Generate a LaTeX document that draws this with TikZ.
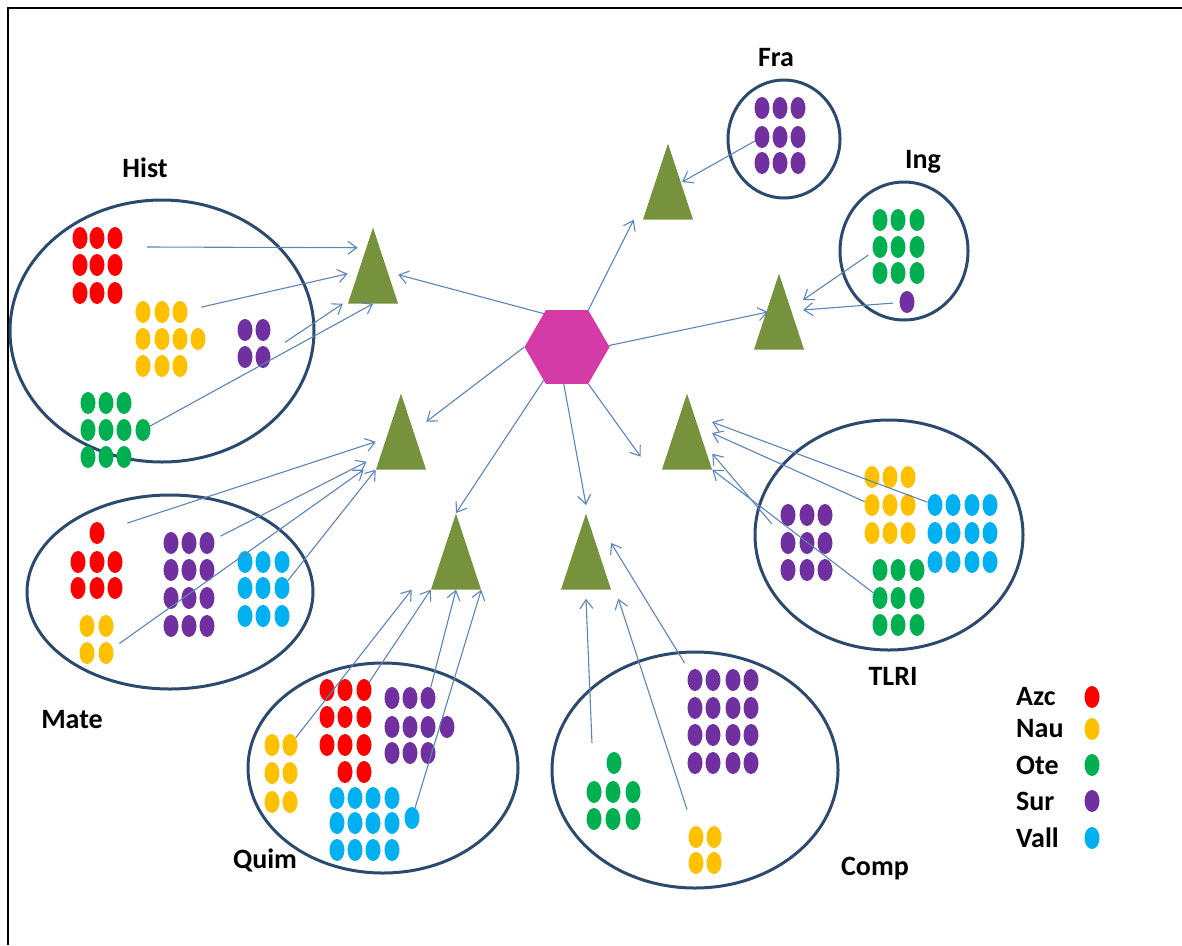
\documentclass[tikz,border=0pt]{standalone}
\usepackage{fontspec}
\setmainfont{Carlito}
\usetikzlibrary{shapes.geometric,arrows.meta}
\definecolor{azc}{HTML}{FF0000}
\definecolor{nau}{HTML}{FFC000}
\definecolor{ote}{HTML}{00B050}
\definecolor{sur}{HTML}{7030A0}
\definecolor{vall}{HTML}{00B0F0}
\definecolor{ringblue}{HTML}{2C4A6E}
\definecolor{linkblue}{HTML}{5B84B8}
\definecolor{treegreen}{HTML}{76923C}
\definecolor{hubpink}{HTML}{D43BA6}

\begin{document}
\begin{tikzpicture}[x=1pt, y=-1pt,
    dot/.style={ellipse, inner sep=0, minimum width=15pt, minimum height=22pt, fill=#1},
    ring/.style={ellipse, draw=ringblue, line width=3pt, inner sep=0},
    tri/.style={isosceles triangle, shape border rotate=90, isosceles triangle stretches,
                minimum width=50pt, minimum height=76pt, inner sep=0, fill=treegreen, anchor=apex},
    arr/.style={-{Straight Barb[length=9pt,width=13pt]}, draw=linkblue, line width=1.1pt},
    lbl/.style={inner sep=0, font=\fontsize{28}{30}\selectfont\bfseries}]
    \useasboundingbox (0,0) rectangle (1182,945);
    \draw [line width=2.5pt] (8,945) -- (8,8) -- (1182,8);

    % groups
    \node [ring, minimum width=304pt, minimum height=262pt] (hist) at (162,331) {};
    \node [ring, minimum width=286pt, minimum height=194pt] (mate) at (170,592) {};
    \node [ring, minimum width=270pt, minimum height=210pt] (quim) at (383,768) {};
    \node [ring, minimum width=286pt, minimum height=236pt] (comp) at (695,770) {};
    \node [ring, minimum width=268pt, minimum height=230pt] (tlri) at (889,535) {};
    \node [ring, minimum width=112pt, minimum height=118pt] (fra) at (784,139) {};
    \node [ring, minimum width=128pt, minimum height=138pt] (ing) at (904,251) {};
    \node [lbl] (hist label) at (145,168) {Hist};
    \node [lbl] (mate label) at (72,720) {Mate};
    \node [lbl] (quim label) at (265,860) {Quim};
    \node [lbl] (comp label) at (875,869) {Comp};
    \node [lbl] (tlri label) at (893,676) {TLRI};
    \node [lbl] (fra label) at (776,58) {Fra};
    \node [lbl] (ing label) at (923,162) {Ing};

    % Hist
    \foreach \x [count=\i] in {80,97,115}
        \foreach \y [count=\j] in {238,265,293}
            \node [dot=azc] (hr-\i-\j) at (\x,\y) {};
    \foreach \x [count=\i] in {143,162,180}
        \foreach \y [count=\j] in {312,339,366}
            \node [dot=nau] (hy-\i-\j) at (\x,\y) {};
    \node [dot=nau] (hy-4-2) at (198,339) {};
    \foreach \x [count=\i] in {245,263}
        \foreach \y [count=\j] in {330,357}
            \node [dot=sur] (hp-\i-\j) at (\x,\y) {};
    \foreach \x [count=\i] in {88,106,124}
        \foreach \y [count=\j] in {403,430,457}
            \node [dot=ote] (hg-\i-\j) at (\x,\y) {};
    \node [dot=ote] (hg-4-2) at (143,430) {};

    % Mate
    \node [dot=azc] (mr-2-0) at (97,533) {};
    \foreach \x [count=\i] in {78,97,115}
        \foreach \y [count=\j] in {562,588}
            \node [dot=azc] (mr-\i-\j) at (\x,\y) {};
    \foreach \x [count=\i] in {87,106}
        \foreach \y [count=\j] in {626,653}
            \node [dot=nau] (my-\i-\j) at (\x,\y) {};
    \foreach \x [count=\i] in {171,189,207}
        \foreach \y [count=\j] in {543,570,598,626}
            \node [dot=sur] (mp-\i-\j) at (\x,\y) {};
    \foreach \x [count=\i] in {245,263,282}
        \foreach \y [count=\j] in {562,588,616}
            \node [dot=vall] (mb-\i-\j) at (\x,\y) {};

    % Quim
    \foreach \x [count=\i] in {272,290}
        \foreach \y [count=\j] in {745,773,802}
            \node [dot=nau] (qy-\i-\j) at (\x,\y) {};
    \foreach \x [count=\i] in {327,345,364}
        \foreach \y [count=\j] in {690,717,745}
            \node [dot=azc] (qr-\i-\j) at (\x,\y) {};
    \node [dot=azc] (qr-2-4) at (345,772) {};
    \node [dot=azc] (qr-3-4) at (364,772) {};
    \foreach \x [count=\i] in {392,410,428}
        \foreach \y [count=\j] in {698,727,753}
            \node [dot=sur] (qp-\i-\j) at (\x,\y) {};
    \node [dot=sur] (qp-4-2) at (447,727) {};
    \foreach \x [count=\i] in {337,355,373,392}
        \foreach \y [count=\j] in {798,823,850}
            \node [dot=vall] (qb-\i-\j) at (\x,\y) {};
    \node [dot=vall] (qb-5-1) at (412,818) {};

    % Comp
    \foreach \x [count=\i] in {695,713,733,751}
        \foreach \y [count=\j] in {680,708,735,763}
            \node [dot=sur] (cp-\i-\j) at (\x,\y) {};
    \node [dot=ote] (cg-2-0) at (614,763) {};
    \foreach \x [count=\i] in {594,613,633}
        \foreach \y [count=\j] in {792,819}
            \node [dot=ote] (cg-\i-\j) at (\x,\y) {};
    \foreach \x [count=\i] in {696,714}
        \foreach \y [count=\j] in {837,863}
            \node [dot=nau] (cy-\i-\j) at (\x,\y) {};

    % TLRI
    \foreach \x [count=\i] in {788,807,825}
        \foreach \y [count=\j] in {515,543,570}
            \node [dot=sur] (tp-\i-\j) at (\x,\y) {};
    \foreach \x [count=\i] in {872,890,908}
        \foreach \y [count=\j] in {477,505,533}
            \node [dot=nau] (ty-\i-\j) at (\x,\y) {};
    \foreach \x [count=\i] in {935,953,972,990}
        \foreach \y [count=\j] in {505,533,562}
            \node [dot=vall] (tb-\i-\j) at (\x,\y) {};
    \foreach \x [count=\i] in {880,898,917}
        \foreach \y [count=\j] in {570,598,625}
            \node [dot=ote] (tg-\i-\j) at (\x,\y) {};

    % Fra, Ing
    \foreach \x [count=\i] in {762,780,798}
        \foreach \y [count=\j] in {108,137,163}
            \node [dot=sur] (fp-\i-\j) at (\x,\y) {};
    \foreach \x [count=\i] in {880,898,917}
        \foreach \y [count=\j] in {220,247,273}
            \node [dot=ote] (ig-\i-\j) at (\x,\y) {};
    \node [dot=sur] (ip) at (907,302) {};

    % legend
    \foreach \name/\col/\y in {Azc/azc/697,Nau/nau/729,Ote/ote/765,Sur/sur/801,Vall/vall/838} {
        \node [lbl, anchor=west] (key-\col) at (1016,\y) {\name};
        \node [dot=\col] (key-dot-\col) at (1092,\y) {};
    }

    % hub and the seven subjects
    \node [regular polygon, regular polygon sides=6, minimum size=85pt, inner sep=0, fill=hubpink] (hub) at (567,347) {};
    \node [tri] (t1) at (373,227) {};
    \node [tri] (t2) at (401,393) {};
    \node [tri] (t3) at (456,513) {};
    \node [tri] (t4) at (586,513) {};
    \node [tri] (t5) at (687,393) {};
    \node [tri] (t6) at (779,273) {};
    \node [tri] (t7) at (668,143) {};

    \draw [arr] (hub.125) -- ([yshift=29pt]t1.right corner);
    \draw [arr] (hub.60) -- ([xshift=-9pt]t7.left corner);
    \draw [arr] (hub.2) -- ([shift={(-11pt,-39pt)}]t6.apex);
    \draw [arr] (hub.180) -- ([yshift=48pt]t2.right corner);
    \draw [arr] (hub.235) -- (t3.apex);
    \draw [arr] (hub.265) -- ([yshift=8pt]t4.apex);
    \draw [arr] (hub.300) -- ([shift={(-21pt,13pt)}]t5.left corner);

    % Hist
    \draw [arr] ([shift={(32pt,-9pt)}]hr-3-1.center) -- ([shift={(10pt,56pt)}]t1.left corner);
    \draw [arr, shorten <=14pt] (hy-3-1) -- ([yshift=30pt]t1.left corner);
    \draw [arr, shorten <=18pt] (hp-2-2) -- ([xshift=-5pt]t1.left corner);
    \draw [arr] (hg-4-2) -- (t1.south);
    % Mate
    \draw [arr, shorten <=24pt] (mr-2-0) -- ([yshift=28pt]t2.left corner);
    \draw [arr, shorten <=7pt] (mp-3-1) -- ([shift={(-9pt,8pt)}]t2.left corner);
    \draw [arr, shorten <=8pt] (my-2-2) -- ([xshift=-12pt]t2.left corner);
    \draw [arr] (mb-3-2) -- (t2.left corner);
    % Quim
    \draw [arr] (qy-2-1) -- ([xshift=-19pt]t3.left corner);
    \draw [arr] (qr-3-1) -- (t3.left corner);
    \draw [arr] (qp-3-1) -- (t3.south);
    \draw [arr] (qb-5-1) -- (t3.right corner);
    % Comp
    \draw [arr, shorten <=38pt] (cg-1-1) -- ([yshift=-9pt]t4.south);
    \draw [arr, shorten <=18pt] (cy-1-1) -- ([shift={(7pt,-9pt)}]t4.right corner);
    \draw [arr, shorten <=10pt] (cp-1-1) -- ([shift={(25pt,-30pt)}]t4.apex);
    % TLRI
    \draw [arr] (tb-1-1) -- ([shift={(25pt,-29pt)}]t5.apex);
    \draw [arr] (ty-1-2) -- ([shift={(25pt,-40pt)}]t5.apex);
    \draw [arr, shorten <=16pt] (tp-1-2) -- ([yshift=16pt]t5.right corner);
    \draw [arr] (tg-1-2) -- (t5.right corner);
    % Fra, Ing
    \draw [arr] (fp-1-2) -- ([shift={(14pt,-39pt)}]t7.apex);
    \draw [arr, shorten <=6pt] (ig-1-2) -- ([shift={(24pt,-27pt)}]t6.apex);
    \draw [arr, shorten <=6pt] (ip) -- ([shift={(24pt,-37pt)}]t6.apex);
\end{tikzpicture}
\end{document}
